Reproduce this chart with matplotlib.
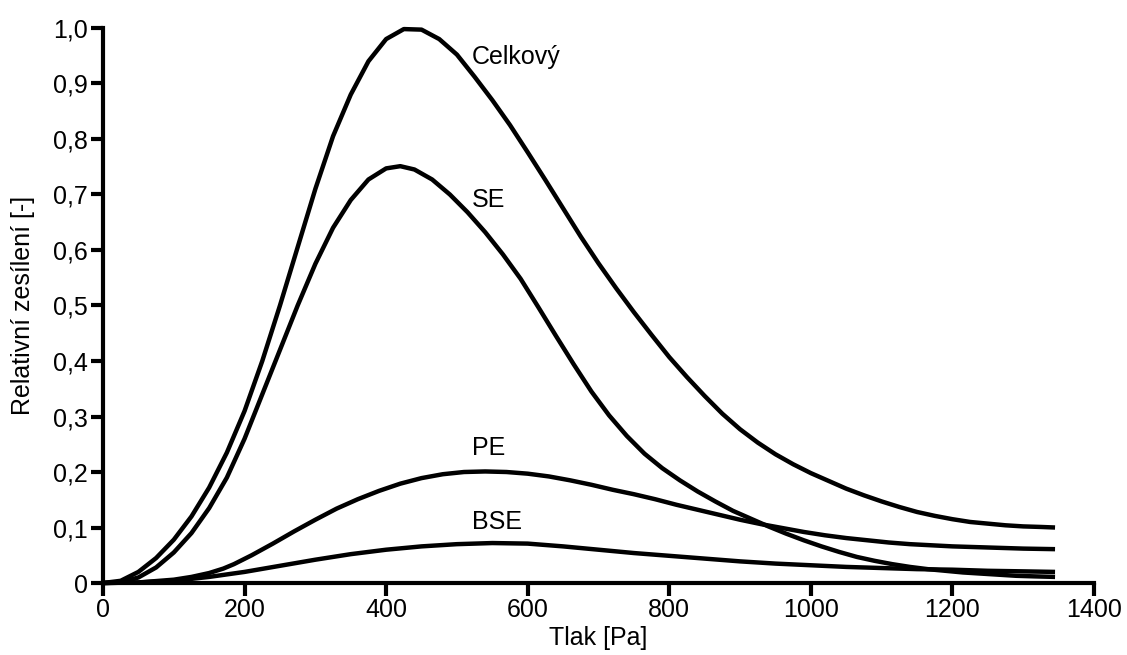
import matplotlib.pyplot as plt
from matplotlib.ticker import FuncFormatter

plt.rcParams['font.family'] = ['Liberation Sans', 'DejaVu Sans']

# Pressure [Pa] / relative gain
celk_x = [0, 25, 50, 75, 100, 125, 150, 175, 200, 225, 250, 275, 300, 325, 350,
          375, 400, 425, 450, 475, 500, 525, 550, 575, 600, 625, 650, 675, 700,
          725, 750, 775, 800, 825, 850, 875, 900, 925, 950, 975, 1000, 1025,
          1050, 1075, 1100, 1125, 1150, 1175, 1200, 1225, 1250, 1275, 1300,
          1325, 1345]
celk_y = [0, 0.004, 0.02, 0.045, 0.078, 0.12, 0.172, 0.235, 0.31, 0.40, 0.50,
          0.605, 0.71, 0.805, 0.88, 0.94, 0.98, 0.998, 0.997, 0.98, 0.952,
          0.912, 0.87, 0.825, 0.776, 0.726, 0.675, 0.624, 0.576, 0.531, 0.488,
          0.447, 0.407, 0.371, 0.337, 0.305, 0.277, 0.253, 0.232, 0.214, 0.198,
          0.184, 0.17, 0.158, 0.147, 0.137, 0.128, 0.121, 0.115, 0.11, 0.107,
          0.104, 0.102, 0.101, 0.10]

se_x = [0, 25, 50, 75, 100, 125, 150, 175, 200, 225, 250, 275, 300, 325, 350,
        375, 400, 420, 440, 465, 490, 515, 540, 565, 590, 615, 640, 665, 690,
        715, 740, 765, 790, 815, 840, 865, 890, 915, 940, 965, 990, 1015, 1040,
        1065, 1090, 1115, 1140, 1165, 1190, 1215, 1240, 1265, 1290, 1315, 1345]
se_y = [0, 0.001, 0.01, 0.028, 0.055, 0.09, 0.135, 0.19, 0.26, 0.34, 0.42,
        0.50, 0.575, 0.64, 0.69, 0.727, 0.747, 0.751, 0.745, 0.727, 0.70,
        0.668, 0.632, 0.592, 0.548, 0.497, 0.445, 0.394, 0.345, 0.302, 0.265,
        0.233, 0.207, 0.185, 0.165, 0.147, 0.13, 0.116, 0.102, 0.089, 0.077,
        0.066, 0.056, 0.047, 0.04, 0.034, 0.029, 0.025, 0.022, 0.019, 0.017,
        0.015, 0.013, 0.012, 0.011]

pe_x = [0, 50, 100, 125, 150, 170, 185, 210, 240, 270, 300, 330, 360, 390, 420,
        450, 480, 510, 540, 570, 600, 630, 660, 690, 720, 750, 780, 810, 840,
        870, 900, 930, 960, 990, 1020, 1050, 1080, 1110, 1140, 1170, 1200,
        1250, 1300, 1345]
pe_y = [0, 0.001, 0.006, 0.011, 0.018, 0.026, 0.034, 0.05, 0.071, 0.093, 0.114,
        0.134, 0.151, 0.166, 0.179, 0.189, 0.196, 0.2, 0.201, 0.2, 0.197,
        0.192, 0.185, 0.177, 0.168, 0.16, 0.151, 0.141, 0.132, 0.123, 0.114,
        0.106, 0.099, 0.092, 0.086, 0.081, 0.077, 0.073, 0.07, 0.068, 0.066,
        0.064, 0.062, 0.061]

bse_x = [0, 50, 100, 150, 200, 250, 300, 350, 400, 450, 500, 550, 600, 650,
         700, 750, 800, 850, 900, 950, 1000, 1050, 1100, 1150, 1200, 1250,
         1300, 1345]
bse_y = [0, 0.001, 0.004, 0.011, 0.02, 0.031, 0.042, 0.052, 0.06, 0.066, 0.07,
         0.072, 0.071, 0.066, 0.06, 0.054, 0.049, 0.044, 0.039, 0.035, 0.032,
         0.029, 0.027, 0.025, 0.024, 0.022, 0.021, 0.02]

labels = ['Celkový', 'SE', 'PE', 'BSE']
label_y = [0.948, 0.69, 0.243, 0.11]

fig = plt.figure(figsize=(11.27, 6.55), dpi=100)
ax = fig.add_axes([0.0914, 0.1099, 0.8793, 0.8474])

for xs, ys in [(celk_x, celk_y), (se_x, se_y), (pe_x, pe_y), (bse_x, bse_y)]:
    ax.plot(xs, ys, color='black', lw=3.2, solid_joinstyle='round',
            solid_capstyle='butt', clip_on=False)

for name, ly in zip(labels, label_y):
    ax.text(521, ly, name, fontsize=18, va='center', ha='left')

ax.set_xlim(0, 1400)
ax.set_ylim(0, 1.0)
ax.set_xticks(range(0, 1401, 200))
ax.set_yticks([i / 10 for i in range(11)])
ax.yaxis.set_major_formatter(FuncFormatter(
    lambda v, p: '0' if abs(v) < 1e-9 else f'{v:.1f}'.replace('.', ',')))

for side in ['top', 'right']:
    ax.spines[side].set_visible(False)
for side in ['left', 'bottom']:
    ax.spines[side].set_linewidth(3)
ax.tick_params(width=3, length=9, labelsize=18, pad=2)

ax.set_xlabel('Tlak [Pa]', fontsize=18, labelpad=3)
ax.set_ylabel('Relativní zesílení [-]', fontsize=18, labelpad=13)

fig.savefig('out.png', dpi=100)
